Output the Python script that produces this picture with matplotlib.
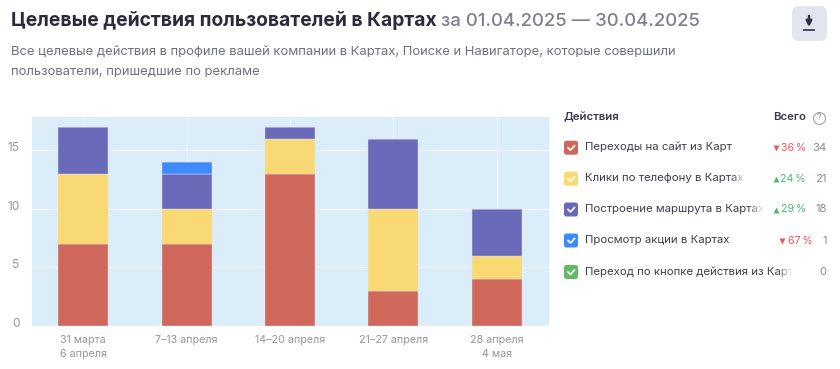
import matplotlib
matplotlib.use('Agg')
import matplotlib.pyplot as plt
from matplotlib.patches import FancyBboxPatch, Rectangle
from matplotlib.transforms import ScaledTranslation
import numpy as np

plt.rcParams['font.family'] = ['Inter', 'DejaVu Sans']

weeks = ['31 марта\n6 апреля', '7–13 апреля', '14–20 апреля', '21–27 апреля', '28 апреля\n4 мая']
site = [7, 7, 13, 3, 4]
phone = [6, 3, 3, 7, 2]
route = [4, 3, 1, 6, 4]
promo = [0, 1, 0, 0, 0]
button = [0, 0, 0, 0, 0]

series = [site, phone, route, promo, button]
colors = ['#d0675b', '#f9d973', '#6a6abb', '#3d8bfa', '#62bb62']
names = ['Переходы на сайт из Карт', 'Клики по телефону в Картах', 'Построение маршрута в Картах',
         'Просмотр акции в Картах', 'Переход по кнопке действия из Карт']
deltas = ['36\u2009%', '24\u2009%', '29\u2009%', '67\u2009%', '']
delta_up = [False, True, True, False, None]
totals = [34, 21, 18, 1, 0]

W, H = 840, 369
fig = plt.figure(figsize=(8.4, 3.69), dpi=100)

# chart axes
ax = fig.add_axes([31.5 / W, 1 - 325.7 / H, 517 / W, 208.4 / H])
ax.set_facecolor('#daedf9')
x = np.arange(len(weeks))
bottom = np.zeros(len(weeks))
for vals, c in zip(series, colors):
    ax.bar(x, vals, 0.485, bottom=bottom, color=c, edgecolor='#e4e4f0', linewidth=0.3, zorder=3)
    bottom += np.array(vals)
ax.set_xlim(-0.5, 4.5)
ax.set_ylim(0, 17.82)
ax.set_yticks([0, 5, 10, 15])
ax.set_xticks(x)
ax.set_xticklabels(weeks, fontsize=7.7, color='#96969b', linespacing=1.45)
ax.tick_params(length=0)
ax.tick_params(axis='x', pad=6.8)
ax.tick_params(axis='y', pad=8.5, labelsize=8.6, labelcolor='#96969b')
# y labels sit a little above their gridlines
for lab in ax.get_yticklabels():
    lab.set_transform(lab.get_transform() + ScaledTranslation(0, 3.5 / 100, fig.dpi_scale_trans))
ax.grid(color='#eef6fc', linewidth=1, zorder=1)
for s in ax.spines.values():
    s.set_visible(False)

# overlay in pixel coordinates for header and legend
ov = fig.add_axes([0, 0, 1, 1], zorder=5)
ov.set_xlim(0, W)
ov.set_ylim(H, 0)
ov.axis('off')

ov.text(11, 21, 'Целевые действия пользователей в Картах', fontsize=13.87, fontweight='bold',
        color='#2b2b3d', va='center')
ov.text(441, 21, 'за 01.04.2025 — 30.04.2025', fontsize=13.35, fontweight='medium',
        color='#7d7f8e', va='center')
ov.text(11, 52, 'Все целевые действия в профиле вашей компании в Картах, Поиске и Навигаторе, которые совершили',
        fontsize=9.4, color='#6f7180', va='center')
ov.text(11, 72, 'пользователи, пришедшие по рекламе', fontsize=9.4, color='#6f7180', va='center')

# download button
ov.add_patch(FancyBboxPatch((792, 6), 35, 35, boxstyle='round,pad=0,rounding_size=7',
                            fc='#e3e5ee', ec='none'))
ov.annotate('', xy=(809, 27), xytext=(809, 16),
            arrowprops=dict(arrowstyle='-|>', color='#2f2f52', lw=1.8, mutation_scale=8, shrinkA=0, shrinkB=0))
ov.plot([804, 814], [29.5, 29.5], color='#2f2f52', lw=1.2)

# legend table
ov.text(564, 117, 'Действия', fontsize=8.2, fontweight='semibold', color='#3a3a4e', va='center')
ov.text(773, 117, 'Всего', fontsize=8.2, fontweight='semibold', color='#3a3a4e', va='center')
ov.plot([819], [118], 'o', ms=8.6, mfc='none', mec='#a2a4ad', mew=0.8)
ov.text(819, 118, '?', fontsize=6, color='#8d8f99', ha='center', va='center')

row_y = [147.7, 178.7, 209.5, 240.5, 272]
fade_x = [None, 748, 765, None, 794]
for i, y in enumerate(row_y):
    ov.add_patch(FancyBboxPatch((564, y - 7), 14, 14, boxstyle='round,pad=0,rounding_size=2.5',
                                fc=colors[i], ec='none'))
    ov.plot([568, 570.5, 574.5], [y, y + 2.5, y - 2], color='white', lw=1.2)
    ov.text(585, y - 0.5, names[i], fontsize=8.2, color='#3d3d50', va='center')
    # fade the long labels out before the numbers column
    if fade_x[i] is not None:
        for k in range(8):
            ov.add_patch(Rectangle((fade_x[i] - 16 + k * 2, y - 9), 2.2, 18, fc='white', ec='none',
                                   alpha=(k + 1) / 8, zorder=4))
        ov.add_patch(Rectangle((fade_x[i], y - 9), 12, 18, fc='white', ec='none', zorder=4))
    if delta_up[i] is not None:
        col = '#4fb878' if delta_up[i] else '#f0545c'
        right = 806 if i != 3 else 812.5
        ov.text(right, y, deltas[i], fontsize=7.6, color=col, ha='right', va='center', zorder=6)
        tx = right - 30.5
        ov.plot([tx], [y + 0.5], '^' if delta_up[i] else 'v', ms=4.2, color=col, mec='none', zorder=6)
    ov.text(827, y, str(totals[i]), fontsize=8.2, color='#8a8c98', ha='right', va='center', zorder=6)

fig.savefig('out.png', dpi=100, facecolor='white')
